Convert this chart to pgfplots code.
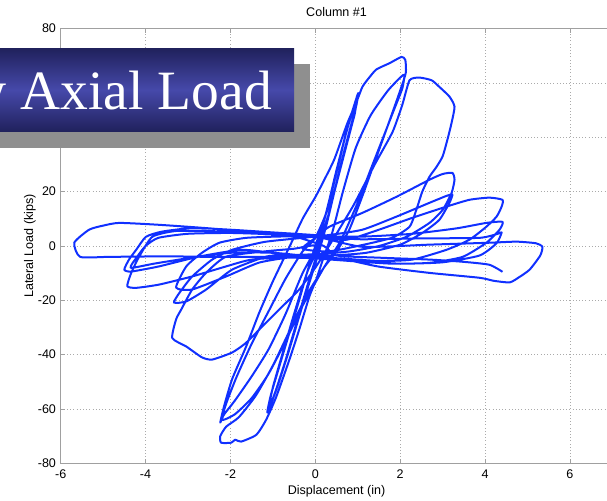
\documentclass[border=0pt]{standalone}
\usepackage{pgfplots}
\pgfplotsset{compat=1.18}
\usepackage{fontspec}
\setmainfont{Liberation Sans}
\newfontfamily\bannerfont{Liberation Serif}
\definecolor{curve}{RGB}{16,48,255}
\definecolor{axgray}{RGB}{160,160,160}
\definecolor{gridgray}{RGB}{170,170,170}
\definecolor{navydark}{RGB}{32,33,92}
\definecolor{navylight}{RGB}{70,73,170}
\definecolor{shadowgray}{RGB}{143,143,143}
\newcommand{\lblfont}{\fontsize{9.4}{11}\selectfont}

\begin{document}
\begin{tikzpicture}
\useasboundingbox (0,0) rectangle (455.25pt,375pt);
\clip (0,0) rectangle (455.25pt,375pt);
\begin{axis}[
  at={(45.5pt,27.5pt)}, anchor=south west,
  scale only axis, width=413.8pt, height=326pt,
  xmin=-6, xmax=7, ymin=-80, ymax=80,
  xtick={-6,-4,...,6}, ytick={-80,-60,...,80},
  % the 40 and 60 labels sit under the banner
  yticklabels={-80,-60,-40,-20,0,20,,,80},
  grid=major,
  major grid style={gridgray, dotted, line width=0.6pt},
  axis line style={axgray, line width=0.9pt},
  tick style={axgray, line width=0.6pt},
  tick align=inside, major tick length=3pt,
  /pgf/number format/assume math mode=true,
  ticklabel style={font=\lblfont},
  xticklabel style={anchor=base, yshift=-11pt},
  title={Column \#1},
  title style={font=\lblfont, anchor=base, at={(0.5,1)}, yshift=3pt},
  xlabel={Displacement (in)},
  xlabel style={font=\lblfont, anchor=base, at={(0.5,0)}, yshift=-23pt},
  ylabel={Lateral Load (kips)},
  ylabel style={font=\lblfont, at={(-0.0556,0.5)}, anchor=center},
]
% load-displacement history of the column
\addplot[curve, line width=1.5pt, line join=round, smooth, tension=0.35] coordinates {
(0,0) (0.2,9) (0.45,24) (0.7,40) (0.88,50) (1.01,56.3) (0.97,52) (0.8,42) (0.6,30) (0.42,18) (0.25,7) (0.05,-4) (-0.15,-14) (-0.4,-27) (-0.65,-40) (-0.9,-52) (-1.13,-61.3) (-1.05,-55) (-0.88,-46) (-0.65,-34) (-0.4,-21) (-0.18,-9) (0,0)
(0.25,12) (0.5,28) (0.75,43) (0.95,53) (1.0,55.5) (0.9,47) (0.7,35) (0.5,23) (0.3,11) (0.05,0) (-0.3,-10) (-0.7,-25) (-1.1,-38) (-1.5,-48) (-1.9,-57) (-2.15,-62) (-2.24,-65) (-2.15,-59) (-1.96,-49) (-1.63,-37) (-1.32,-24.5) (-1.0,-13) (-0.6,0) (-0.3,10) (0,18) (0.2,24)
(0.45,32) (0.75,45) (0.97,53) (1.11,58.6) (1.27,62) (1.44,65) (1.75,67.3) (2.03,69.6) (2.12,68.5) (2.13,63.6) (1.95,55) (1.7,44) (1.4,31) (1.1,18) (0.8,6) (0.5,-2) (0.2,-8) (-0.2,-18) (-0.6,-31) (-1.0,-44) (-1.4,-55) (-1.8,-63) (-2.1,-66.5) (-2.24,-70) (-2.22,-72.4) (-1.98,-72.4) (-1.89,-71.3) (-1.75,-72) (-1.39,-69.5) (-1.16,-64) (-0.92,-55.5) (-0.61,-41.8) (-0.38,-30.8) (-0.14,-18.6) (0.02,-12.4) (0.2,-4) (0.4,5)
(0.65,20) (0.95,36) (1.3,48) (1.7,57) (2.0,62) (2.1,63) (2.05,58) (1.85,50) (1.6,40) (1.3,28) (1.0,16) (0.6,2) (0.2,-8) (-0.3,-22) (-0.7,-35) (-1.1,-47) (-1.5,-56) (-1.9,-62) (-2.2,-64) (-2.1,-58) (-1.85,-48) (-1.5,-36) (-1.1,-24) (-0.7,-12) (-0.3,-2) (0,3)
(0.3,14) (0.55,31) (0.8,46) (0.98,54.5) (0.92,48) (0.7,36) (0.45,20) (0.2,5) (-0.1,-10) (-0.4,-26) (-0.7,-42) (-0.95,-54) (-1.1,-60) (-1.0,-52) (-0.78,-40) (-0.5,-25) (-0.2,-10) (0.05,0)
(-0.5,-1) (-1.2,-2) (-2.1,-3.9) (-2.57,-9.8) (-2.9,-16) (-3.16,-23.4) (-3.28,-27) (-3.37,-33.9) (-3.04,-37) (-2.67,-41) (-2.43,-41.8) (-1.96,-39.2) (-1.63,-35.6) (-1.16,-28.2) (-0.78,-22.3) (-0.38,-16) (0,-8) (0.4,2) (0.9,15) (1.4,30) (1.82,42) (2.05,52) (2.22,61) (2.45,62) (2.74,61) (2.92,58.6) (3.16,55) (3.28,51.3) (3.21,45.3) (3.11,39) (3.0,33) (2.85,29) (2.69,25.5) (2.52,20) (2.38,13.3) (2.22,7.1) (1.8,3) (1.0,0) (0.3,-2) (-0.3,-1) (0,3) (0.33,7.1)
(1.11,12.2) (1.91,18.1) (2.69,24.4) (3.0,26.5) (3.23,26.9) (3.28,24.4) (3.21,19.5) (3.0,13.3) (2.69,8.5) (2.15,3.4) (1.5,0) (0.8,-2) (0,-3) (-0.8,-3.5) (-1.16,-3.9) (-1.96,-8.7) (-2.57,-16) (-3.04,-20.4) (-3.33,-20.8) (-3.2,-17.2) (-2.9,-11.2) (-2.43,-5) (-1.96,-1.4) (-1.2,1.5) (-0.3,3) (0.3,4)
(1.11,6) (1.91,10.8) (2.69,15.9) (3.1,18.5) (3.23,18.9) (3.16,15.9) (2.92,9.6) (2.52,4.8) (2.0,0.5) (1.2,-2.5) (0.4,-3.5) (-0.5,-4) (-1.32,-6.1) (-2.1,-11.2) (-2.9,-16) (-3.28,-15.3) (-3.04,-7.5) (-2.67,-2.5) (-2.26,1.2) (-1.63,3) (-0.8,3.5) (0,3.5) (0.73,2.3)
(1.5,6) (2.29,10.4) (3.09,14.5) (3.63,17) (4.1,17.8) (4.41,17) (4.39,14.5) (4.27,10.8) (4.03,7.1) (3.63,2.3) (3.09,-1.4) (2.29,-5) (1.5,-5.5) (0.5,-4.5) (-0.5,-4) (-1.5,-5) (-2.1,-7.5) (-2.9,-11.2) (-3.68,-14.2) (-4.22,-15.4) (-4.43,-14.8) (-4.34,-10) (-4.15,-3.9) (-3.84,3.4) (-3.3,5.5) (-2.5,5.5) (-1.5,4.8) (-0.5,4) (0.3,3.5) (1.2,3.5)
(2.29,4.5) (3.33,6.5) (4.03,8.5) (4.41,8.9) (4.34,6) (4.03,1.2) (3.47,-4) (2.69,-6.2) (1.8,-6.5) (0.8,-5.5) (0,-4.5) (-0.8,-3) (-1.72,-1.4) (-2.74,-3.9) (-3.68,-7.5) (-4.34,-9.4) (-4.5,-8.7) (-4.39,-5) (-4.22,-1.4) (-3.99,3.4) (-3.61,5.3) (-2.9,6.6) (-2,6) (-1,5) (0,4) (1,2.5)
(2.5,2.8) (3.87,3) (4.3,4.5) (4.39,5) (4.27,1) (3.87,-3.5) (3,-6) (2,-6.5) (1,-5.5) (0,-4) (-1,-2.5) (-2,-2.5) (-3,-4.5) (-3.8,-6.5) (-4.35,-8) (-4.2,-4) (-4,0) (-3.7,3) (-3,4.5) (-2,4.8) (-1,4.3) (0,3.5) (1.11,-0.3)
(2.69,0.5) (4.1,1.2) (4.74,1.6) (5.2,1) (5.35,-0.3) (5.3,-3.5) (5.05,-8.7) (4.8,-11.5) (4.58,-13.4) (4.2,-12.8) (3.87,-11.7) (2.69,-9.9) (1.5,-7.6) (0.73,-5.1) (0,-4.5) (-1.32,-4) (-2.5,-4) (-3.5,-3.8) (-4.86,-4) (-5.54,-4) (-5.68,1.2) (-5.33,6) (-5,7.5) (-4.62,8.5) (-3.68,7.8) (-2.5,6.5) (-1.32,4.9) (-0.5,3.5) (0.2,0) (0.5,-3.5) (1.5,-4.3) (2.69,-5) (3.47,-5.8) (4.1,-6.9) (4.41,-9.5)
};
\end{axis}
% slide banner laid over the plot
\fill[shadowgray] (-10pt,264.2pt) rectangle (232.3pt,327pt);
\shade[top color=navydark, bottom color=navydark, middle color=navylight]
  (-10pt,276.2pt) rectangle (220.5pt,338.8pt);
\node[anchor=base east, text=white, inner sep=0pt,
      font=\bannerfont\fontsize{41.6}{48}\selectfont] at (204pt,292.5pt) {Low Axial Load};
\end{tikzpicture}
\end{document}
